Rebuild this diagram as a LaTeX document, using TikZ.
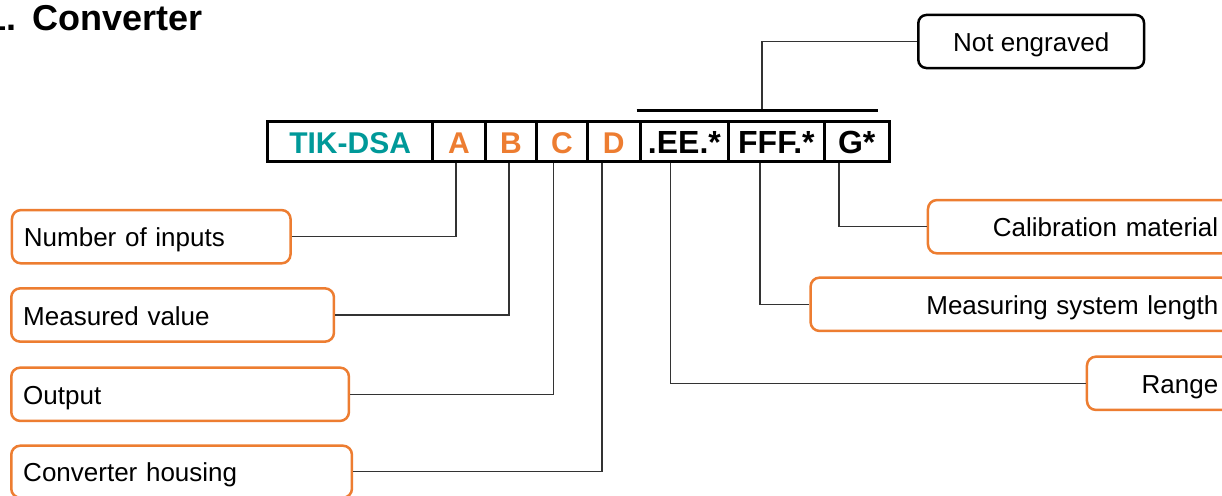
\documentclass[tikz,border=0pt]{standalone}
\usepackage{fontspec}
\setmainfont{Liberation Sans}
\definecolor{orng}{RGB}{237,125,49}
\definecolor{tealc}{RGB}{0,153,153}
\begin{document}
\begin{tikzpicture}[x=1pt,y=-1pt,
  lbl/.style={draw=orng, line width=2.5pt, rounded corners=9pt, minimum height=53.3pt, inner ysep=0pt, text height=20pt, text depth=0pt, font=\fontsize{26}{30}\selectfont},
  lblL/.style={lbl, align=left, inner xsep=12pt},
  lblR/.style={lbl, align=right, inner xsep=12pt},
  cell/.style={draw, line width=3pt, minimum height=40pt, inner sep=0pt, text height=24.6pt, text depth=0pt},
  colcell/.style={cell, text=orng, font=\bfseries\fontsize{30}{34}\selectfont},
  blkcell/.style={cell, font=\bfseries\fontsize{32}{36}\selectfont},
  conn/.style={draw=black!80, line width=1.3pt},
]
\path[use as bounding box, clip] (0,0) rectangle (1222,495);
\fill[white] (0,0) rectangle (1222,495);

% title (cropped at the left edge, as in the reference)
\node[anchor=base east, font=\bfseries\fontsize{36}{40}\selectfont, inner sep=0pt] (title) at (203,30.7) {1.\hspace{3pt} Converter};

% code cells
\node[cell, minimum width=165.2pt, text=tealc, font=\bfseries\fontsize{30}{34}\selectfont] (c0) at (350.1,141) {TIK-DSA};
\node[colcell, minimum width=52.3pt] (cA) at (458.9,141) {A};
\node[colcell, minimum width=51.7pt] (cB) at (510.9,141) {B};
\node[colcell, minimum width=50.6pt] (cC) at (562,141) {C};
\node[colcell, minimum width=52.7pt] (cD) at (613.7,141) {D};
\node[blkcell, minimum width=88.7pt] (cE) at (684.4,141) {.EE.*};
\node[blkcell, minimum width=95.3pt] (cF) at (776.4,141) {FFF.*};
\node[blkcell, minimum width=65.3pt] (cG) at (856.7,141) {G*};

% top bar and "Not engraved"
\coordinate (barL) at (636.7,110);
\coordinate (barR) at (878,110);
\draw[line width=3pt] (barL) -- (barR);
\coordinate (barT) at (762,108.5);
\node[draw, line width=2.5pt, rounded corners=8pt, minimum width=225.7pt, minimum height=53pt, inner sep=0pt, text height=20pt, text depth=0pt, font=\fontsize{26}{30}\selectfont] (ne) at (1031.2,41.5) {Not engraved};
\draw[conn] (ne.west) -| (barT);

% left labels
\node[lblL, text width=254.6pt, anchor=west] (nin) at (10.7,236.7) {Number of inputs};
\node[lblL, text width=298.7pt, anchor=west] (mv) at (10,315) {Measured value};
\node[lblL, text width=313.7pt, anchor=west] (out) at (10,394.3) {Output};
\node[lblL, text width=316.7pt, anchor=west, minimum height=52pt] (hous) at (10,471.7) {Converter housing};

% right labels
\node[lblR, text width=278.3pt, anchor=west] (cal) at (926.7,226.7) {Calibration material};
\node[lblR, text width=395.7pt, anchor=west] (msl) at (809.3,304.3) {Measuring system length};
\node[lblR, text width=119.3pt, anchor=west] (rng) at (1085.7,383.3) {Range};

% connectors
\draw[conn] ([xshift=-2.9pt]cA.south) |- (nin.east);
\draw[conn] ([xshift=-1.9pt]cB.south) |- (mv.east);
\draw[conn] ([xshift=-8.7pt]cC.south) |- (out.east);
\draw[conn] ([xshift=-11.7pt]cD.south) |- (hous.east);
\draw[conn] ([xshift=-13.7pt]cE.south) |- (rng.west);
\draw[conn] ([xshift=-16.4pt]cF.south) |- (msl.west);
\draw[conn] ([xshift=-17.7pt]cG.south) |- (cal.west);
\end{tikzpicture}
\end{document}
